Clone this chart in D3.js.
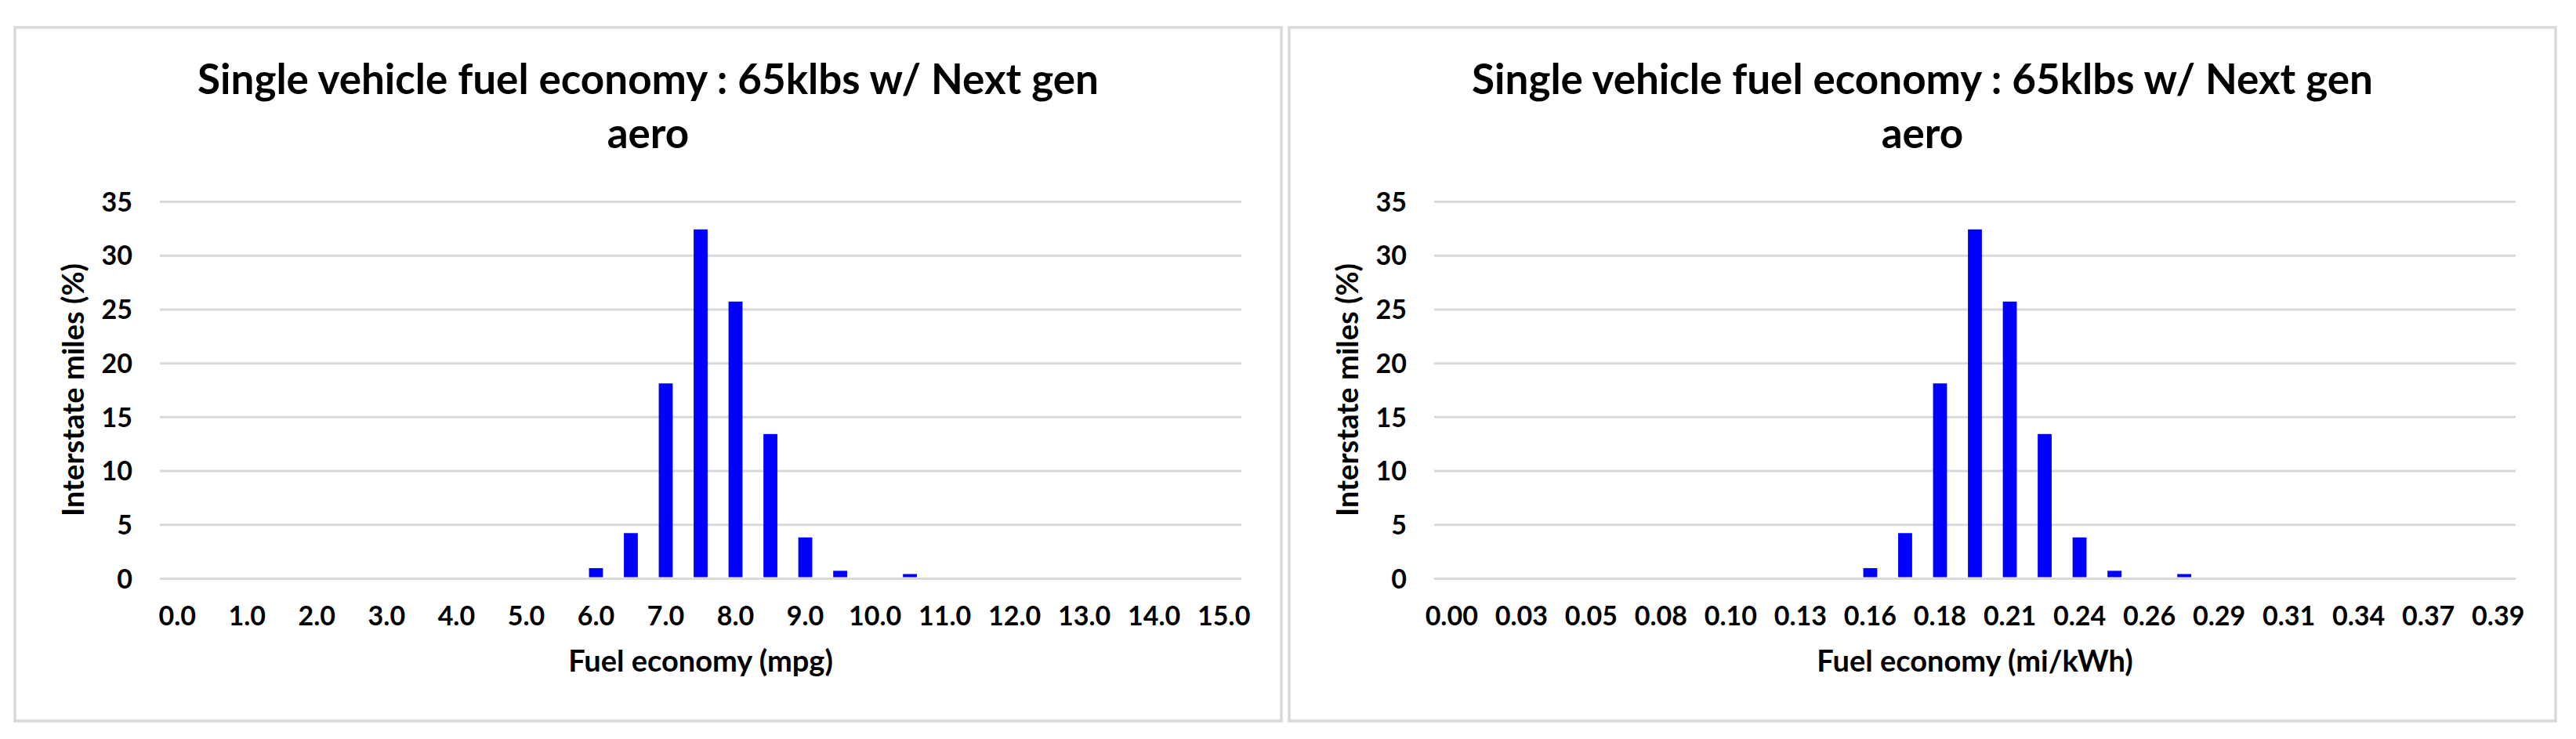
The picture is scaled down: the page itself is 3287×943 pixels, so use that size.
<!DOCTYPE html>
<html lang="en">
  <head>
    <meta charset="UTF-8" />
    <title>Single vehicle fuel economy</title>
    <style>
      body { margin: 0; background: #fff; }
      text { font-family: Lato, "Open Sans", sans-serif; font-weight: bold; fill: #000; }
    </style>
  </head>
  <body>
    <div id="chart"></div>
    <script src="https://d3js.org/d3.v7.min.js"></script>
    <script>
      // fuel economy bins (mpg), one category every 0.5 mpg
      var bins = ["0.0","0.5","1.0","1.5","2.0","2.5","3.0","3.5","4.0","4.5",
        "5.0","5.5","6.0","6.5","7.0","7.5","8.0","8.5","9.0","9.5",
        "10.0","10.5","11.0","11.5","12.0","12.5","13.0","13.5","14.0","14.5","15.0"];

      // share of interstate miles in each bin (%)
      var milesPct = [0,0,0,0,0,0,0,0,0,0,
        0,0,0.95,4.2,18.1,32.4,25.7,13.4,3.8,0.7,
        0,0.4,0,0,0,0,0,0,0,0,0];

      // labels shown under every second bin
      var mpgLabels = ["0.0","1.0","2.0","3.0","4.0","5.0","6.0","7.0",
        "8.0","9.0","10.0","11.0","12.0","13.0","14.0","15.0"];
      var kwhLabels = ["0.00","0.03","0.05","0.08","0.10","0.13","0.16","0.18",
        "0.21","0.24","0.26","0.29","0.31","0.34","0.37","0.39"];

      var yTicks = [0,5,10,15,20,25,30,35];

      var titleLines = ["Single vehicle fuel economy : 65klbs w/ Next gen", "aero"];
      var yTitle = "Interstate miles (%)";

      var W = 3287, H = 943;
      var panelW = 1616, panelH = 885, panelTop = 35;
      var plotL = 185, plotR = 1565, plotTop = 257, plotBottom = 738;

      var svg = d3.select("#chart").append("svg")
        .attr("width", W)
        .attr("height", H);

      function drawPanel(x0, tickLabels, xTitle) {
        var g = svg.append("g").attr("transform", "translate(" + x0 + ",0)");

        g.append("rect")
          .attr("x", 0).attr("y", panelTop)
          .attr("width", panelW).attr("height", panelH)
          .attr("fill", "#fff")
          .attr("stroke", "#d9d9d9")
          .attr("stroke-width", 3.5);

        var x = d3.scaleBand()
          .domain(bins)
          .range([plotL, plotR])
          .paddingInner(0.6)
          .paddingOuter(0.3);

        var y = d3.scaleLinear()
          .domain([0, 35])
          .range([plotBottom, plotTop]);

        // gridlines + y labels
        var ya = g.append("g")
          .attr("transform", "translate(" + plotL + ",0)")
          .call(d3.axisLeft(y).tickValues(yTicks).tickSize(-(plotR - plotL)).tickPadding(35));
        ya.select(".domain").remove();
        ya.selectAll("line").attr("stroke", "#d9d9d9").attr("stroke-width", 3);
        ya.selectAll("text").style("font-size", "34px").attr("dy", "0.36em");

        // x labels on every other bin
        var shown = bins.filter(function (d, i) { return i % 2 === 0; });
        var xa = g.append("g")
          .attr("transform", "translate(0," + plotBottom + ")")
          .call(d3.axisBottom(x).tickValues(shown).tickSize(0).tickPadding(36)
            .tickFormat(function (d) { return tickLabels[shown.indexOf(d)]; }));
        xa.select(".domain").remove();
        xa.selectAll("text").style("font-size", "34px");

        // bars
        g.append("g")
          .selectAll("rect")
          .data(milesPct)
          .enter()
          .append("rect")
          .attr("x", function (d, i) { return x(bins[i]); })
          .attr("y", function (d) { return y(d); })
          .attr("width", x.bandwidth())
          .attr("height", function (d) { return Math.max(0, y(0) - y(d) - 1.5); })
          .attr("fill", "#0000ff");

        // title
        g.append("text")
          .attr("text-anchor", "middle")
          .style("font-size", "53px")
          .selectAll("tspan")
          .data(titleLines)
          .enter()
          .append("tspan")
          .attr("x", panelW / 2)
          .attr("y", function (d, i) { return 120 + i * 69; })
          .text(function (d) { return d; });

        // axis titles
        g.append("text")
          .attr("text-anchor", "middle")
          .attr("x", (plotL + plotR) / 2)
          .attr("y", 857)
          .style("font-size", "38px")
          .text(xTitle);

        g.append("text")
          .attr("text-anchor", "middle")
          .attr("transform", "translate(88," + (plotTop + plotBottom) / 2 + ") rotate(-90)")
          .style("font-size", "38px")
          .text(yTitle);
      }

      drawPanel(19, mpgLabels, "Fuel economy (mpg)");
      drawPanel(1645, kwhLabels, "Fuel economy (mi/kWh)");
    </script>
  </body>
</html>
